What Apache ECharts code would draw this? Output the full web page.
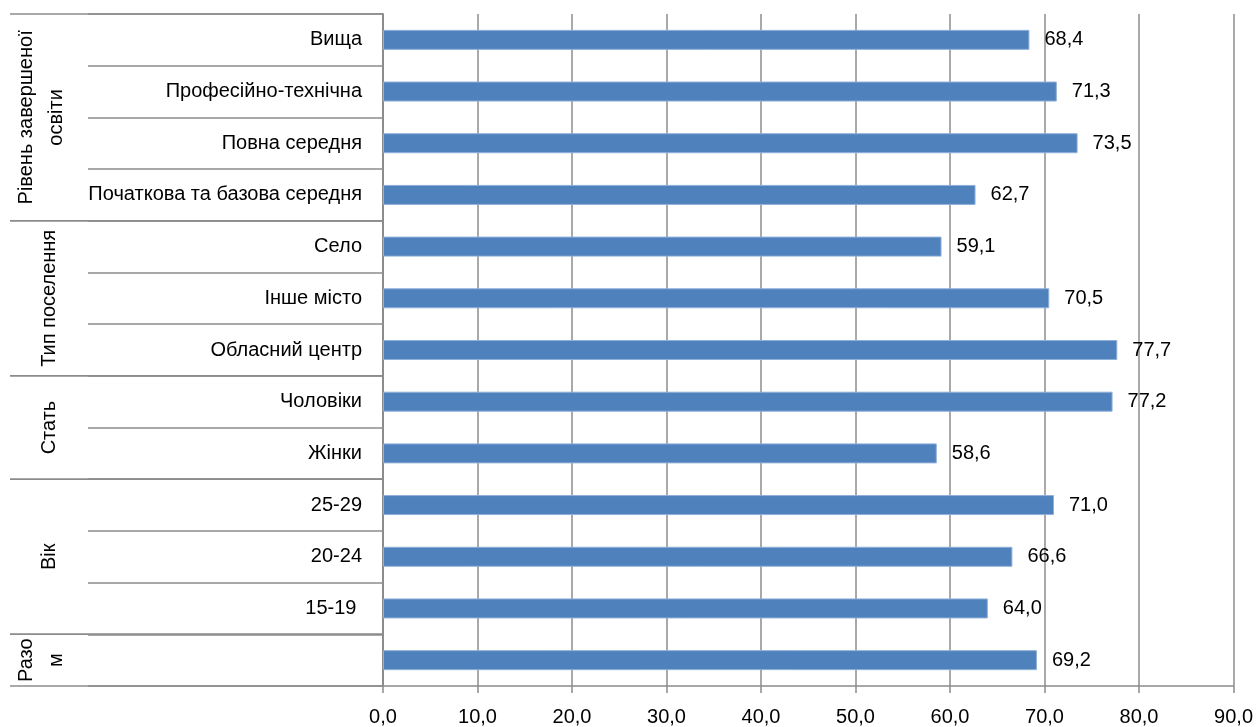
<!DOCTYPE html>
<html>
<head>
<meta charset="utf-8">
<script src="https://cdn.jsdelivr.net/npm/echarts@6/dist/echarts.min.js"></script>
<style>
html,body{margin:0;padding:0;background:#fff;}
#chart{width:1256px;height:727px;}
</style>
</head>
<body>
<div id="chart"></div>
<script>
const categories = ['Вища', 'Професійно-технічна', 'Повна середня', 'Початкова та базова середня',
  'Село', 'Інше місто', 'Обласний центр', 'Чоловіки', 'Жінки', '25-29', '20-24', '15-19 ', ''];
const values = [68.4, 71.3, 73.5, 62.7, 59.1, 70.5, 77.7, 77.2, 58.6, 71.0, 66.6, 64.0, 69.2];
const groupNames = ['Рівень завершеної\nосвіти', 'Тип поселення', 'Стать', 'Вік', 'Разо\nм'];
const groupSizes = [4, 3, 2, 3, 1];
const xTicks = [0, 10, 20, 30, 40, 50, 60, 70, 80, 90];

const FONT = "'Liberation Sans', Arial, sans-serif";
const LINE = '#8c8c8c';

const groupStarts = [];
groupSizes.reduce((acc, n) => { groupStarts.push(acc); return acc + n; }, 0);

const chart = echarts.init(document.getElementById('chart'));
chart.setOption({
  animation: false,
  backgroundColor: '#fff',
  grid: { left: 383, right: 22, top: 14, bottom: 40, containLabel: false },
  xAxis: {
    type: 'value',
    min: xTicks[0], max: xTicks[xTicks.length - 1], interval: 10,
    axisLine: { show: true, lineStyle: { color: LINE, width: 1.5 } },
    axisTick: { show: true, length: 7, lineStyle: { color: LINE, width: 1.5 } },
    splitLine: { show: true, lineStyle: { color: LINE, width: 1.5 } },
    axisLabel: {
      margin: 21, color: '#000', fontFamily: FONT, fontSize: 20,
      formatter: v => v.toFixed(1).replace('.', ',')
    }
  },
  yAxis: {
    type: 'category',
    inverse: true,
    data: categories,
    axisLine: { show: true, lineStyle: { color: LINE, width: 2 } },
    axisTick: { show: true, length: 295, interval: 0, lineStyle: { color: LINE, width: 1.5 } },
    axisLabel: { margin: 21, color: '#000', fontFamily: FONT, fontSize: 20, interval: 0 }
  },
  series: [
    {
      type: 'bar',
      data: values,
      barWidth: 20,
      itemStyle: { color: '#4f81bd', borderColor: '#8fb0da', borderWidth: 1 },
      label: {
        show: true, position: 'right', distance: 15,
        color: '#000', fontFamily: FONT, fontSize: 20,
        formatter: p => p.value.toFixed(1).replace('.', ',')
      }
    },
    {
      type: 'custom',
      clip: false,
      silent: true,
      data: groupNames.map((n, i) => [0, groupStarts[i]]),
      renderItem: function (params, api) {
        const i = params.dataIndex;
        const start = groupStarts[i];
        const end = start + groupSizes[i] - 1;
        const band = api.size([0, 1])[1];
        const yTop = api.coord([0, start])[1] - band / 2;
        const yBot = api.coord([0, end])[1] + band / 2;
        const x0 = params.coordSys.x;
        const name = groupNames[i];
        const multi = name.indexOf('\n') >= 0;
        return {
          type: 'group',
          children: [
            { type: 'line', shape: { x1: x0 - 373, y1: yTop, x2: x0, y2: yTop },
              style: { stroke: LINE, lineWidth: 1.5 } },
            { type: 'line', shape: { x1: x0 - 373, y1: yBot, x2: x0, y2: yBot },
              style: { stroke: LINE, lineWidth: 1.5 } },
            { type: 'text', x: x0 - (multi ? 342 : 334), y: (yTop + yBot) / 2, rotation: Math.PI / 2,
              style: { text: name, fontFamily: FONT, fontSize: 20, fill: '#000',
                       align: 'center', verticalAlign: 'middle', lineHeight: 30 } }
          ]
        };
      }
    }
  ]
});
</script>
</body>
</html>
